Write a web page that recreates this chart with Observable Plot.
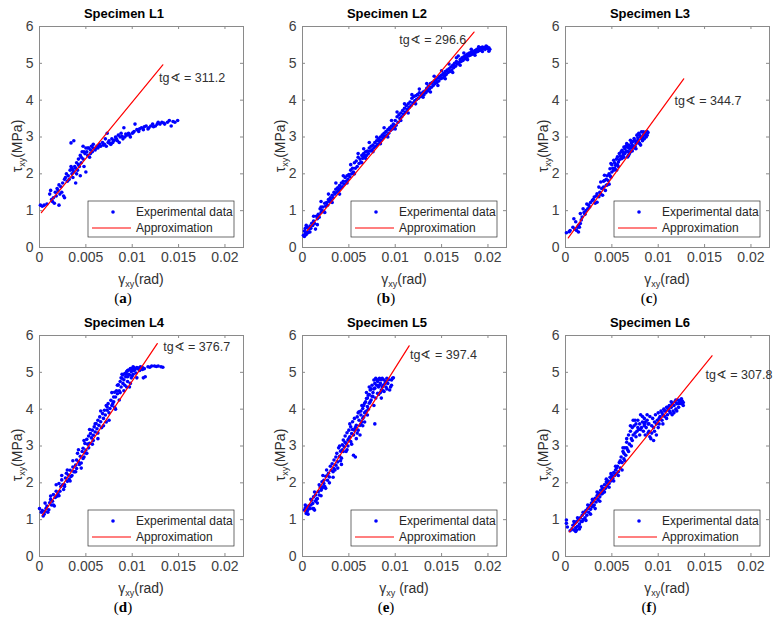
<!DOCTYPE html>
<html>
<head>
<meta charset="utf-8">
<script src="https://cdn.jsdelivr.net/npm/d3@7"></script>
<script src="https://cdn.jsdelivr.net/npm/@observablehq/plot@0.6"></script>
<style>
  html, body { margin: 0; padding: 0; background: #fff; }
  #wrap { position: relative; width: 781px; height: 626px; background: #fff; overflow: hidden;
          font-family: "Liberation Sans", Arial, sans-serif; }
  .panel { position: absolute; }
  #overlay { position: absolute; left: 0; top: 0; pointer-events: none; }
</style>
</head>
<body>
<div id="wrap"></div>
<script>
// ---------- data ----------
const titles = ["Specimen L1", "Specimen L2", "Specimen L3", "Specimen L4", "Specimen L5", "Specimen L6"];
const captions = ["a", "b", "c", "d", "e", "f"];
const slopes = ["311.2", "296.6", "344.7", "376.7", "397.4", "307.8"];
const xLabelTexts = ["(rad)", "(rad)", "(rad)", "(rad)", " (rad)", "(rad)"];
const xTicks = [0, 0.005, 0.01, 0.015, 0.02];
const xTickLabels = ["0", "0.005", "0.01", "0.015", "0.02"];
const yTicks = [0, 1, 2, 3, 4, 5, 6];
const yTickLabels = ["0", "1", "2", "3", "4", "5", "6"];
const xDomain = [0, 0.022];
const yDomain = [0, 6];
const legendLabels = ["Experimental data", "Approximation"];

// approximation lines (start, end)
const fitStart = [[0.0002, 0.95], [0.0005, 0.46], [0.0003, 0.26], [0.0003, 1.12], [0.0002, 1.21], [0.0004, 0.67]];
const fitEnd = [[0.0133, 4.96], [0.0185, 5.85], [0.01275, 4.58], [0.0127, 5.78], [0.0115, 5.72], [0.0158, 5.45]];
// annotation anchors (left, middle)
const annotPos = [[0.0129, 4.61], [0.01044, 5.64], [0.01175, 3.99], [0.01334, 5.69], [0.0116, 5.47], [0.01509, 4.92]];

const l1 = [[0.0001,1.15],[0.0003,1.12],[0.0005,1.15],[0.0008,1.18],[0.0011,1.45],[0.0012,1.55],[0.0013,1.3],[0.0014,1.25],[0.0015,1.35],[0.0016,1.2],[0.0017,1.5],[0.0018,1.4],[0.0019,1.6],[0.002,1.55],[0.0021,1.15],[0.0021,1.7],[0.0022,1.45],[0.0023,1.65],[0.0024,1.5],[0.0025,1.75],[0.0026,1.4],[0.0027,1.35],[0.0027,1.85],[0.0028,1.9],[0.0029,2.0],[0.003,1.8],[0.0031,1.95],[0.0032,1.85],[0.0033,2.1],[0.0034,2.2],[0.0034,2.84],[0.0035,2.0],[0.0035,2.15],[0.0036,1.9],[0.0037,2.05],[0.0037,2.9],[0.0038,2.2],[0.0039,1.75],[0.004,2.0],[0.004,2.3],[0.0041,2.1],[0.0042,2.4],[0.0043,2.2],[0.0044,1.95],[0.0044,2.5],[0.0045,2.3],[0.0046,2.6],[0.0047,2.4],[0.0047,2.75],[0.0048,2.2],[0.0049,2.55],[0.005,2.05],[0.005,2.7],[0.0051,2.6],[0.0052,2.5],[0.0053,2.7],[0.0054,2.45],[0.0055,2.65],[0.0056,2.75],[0.0057,2.6],[0.0058,2.7],[0.006,2.65],[0.0062,2.75],[0.0063,2.7],[0.0065,2.8],[0.0066,2.75],[0.0068,2.85],[0.007,2.8],[0.0071,2.95],[0.0072,2.75],[0.0073,3.1],[0.0074,2.85],[0.0075,2.9],[0.0077,2.8],[0.0078,2.95],[0.0079,2.85],[0.008,2.9],[0.0082,3.0],[0.0083,2.95],[0.0085,3.05],[0.0086,2.85],[0.0087,3.0],[0.0088,3.1],[0.009,2.95],[0.0091,3.25],[0.0092,3.0],[0.0094,3.05],[0.0096,3.1],[0.0098,3.0],[0.01,3.1],[0.0102,3.15],[0.0103,3.35],[0.0105,3.2],[0.0107,3.15],[0.011,3.25],[0.0112,3.2],[0.0115,3.3],[0.0118,3.25],[0.012,3.3],[0.0122,3.35],[0.0125,3.3],[0.0128,3.4],[0.013,3.35],[0.0132,3.4],[0.0135,3.35],[0.0138,3.4],[0.014,3.45],[0.0142,3.3],[0.0144,3.42],[0.0146,3.4],[0.0149,3.45],
[0.0036,2.1],[0.0039,2.15],[0.0042,2.25],[0.0045,2.45],[0.0048,2.6],[0.0052,2.7],[0.0055,2.55],[0.0058,2.8],[0.0061,2.7],[0.0064,2.75],[0.0069,2.78],[0.0076,2.82],[0.0081,2.92],[0.0084,2.9],[0.0089,3.02],[0.0093,3.08],[0.0097,3.05],[0.0101,3.12],[0.0108,3.22],[0.0113,3.28],[0.0117,3.22],[0.0123,3.28],[0.0127,3.35],[0.0134,3.38]];

const l2 = [[0.0001,0.33],[0.0002,0.45],[0.0002,0.3],[0.0003,0.38],[0.0003,0.52],[0.0004,0.35],[0.0005,0.42],[0.0005,0.55],[0.0006,0.4],[0.0007,0.5],[0.0008,0.58],[0.0009,0.52],[0.001,0.66],[0.0011,0.6],[0.0012,0.72],[0.0013,0.65],[0.0014,0.5],[0.0015,0.85],[0.0016,0.78],[0.0017,0.9],[0.0018,0.82],[0.0019,1.05],[0.002,0.95],[0.002,1.25],[0.0021,1.0],[0.0022,1.1],[0.0023,0.98],[0.0024,1.2],[0.0025,1.12],[0.0026,1.22],[0.0027,1.15],[0.0028,1.3],[0.0029,1.25],[0.003,1.35],[0.0031,1.28],[0.0032,1.42],[0.0033,1.35],[0.0034,1.5],[0.0035,1.45],[0.0036,1.58],[0.0037,1.5],[0.0038,1.62],[0.0039,1.55],[0.004,1.68],[0.0041,1.6],[0.0042,1.75],[0.0043,1.65],[0.0044,1.8],[0.0045,1.72],[0.0046,1.9],[0.0047,1.8],[0.0048,1.95],[0.0049,1.85],[0.005,1.98],[0.0051,1.92],[0.0052,2.1],[0.0053,2.0],[0.0054,2.15],[0.0055,2.05],[0.0056,2.3],[0.0057,2.15],[0.0058,2.35],[0.0059,2.2],[0.006,2.45],[0.0061,2.28],[0.0062,2.4],[0.0063,2.32],[0.0064,2.5],[0.0065,2.42],[0.0066,2.55],[0.0067,2.48],[0.0068,2.6],[0.0069,2.5],[0.007,2.62],[0.0071,2.55],[0.0072,2.7],[0.0073,2.62],[0.0074,2.75],[0.0075,2.65],[0.0076,2.78],[0.0077,2.7],[0.0078,2.85],[0.0079,2.75],[0.008,2.9],[0.0081,2.8],[0.0082,2.95],[0.0083,2.88],[0.0084,3.0],[0.0085,2.92],[0.0086,3.05],[0.0087,2.98],[0.0088,3.1],[0.0089,3.02],[0.009,3.15],[0.0091,3.05],[0.0092,3.2],[0.0093,3.1],[0.0094,3.25],[0.0095,3.18],[0.0096,3.3],[0.0097,3.22],[0.0098,3.35],[0.0099,3.28],[0.01,3.45],[0.0101,3.32],[0.0102,3.55],[0.0103,3.4],[0.0104,3.6],[0.0105,3.5],[0.0106,3.65],[0.0107,3.55],[0.0108,3.72],[0.0109,3.62],[0.011,3.78],[0.0111,3.68],[0.0112,3.85],[0.0113,3.75],[0.0114,3.9],[0.0115,3.8],[0.0116,3.95],[0.0117,3.85],[0.0118,4.05],[0.0119,3.92],[0.012,4.1],[0.0121,3.98],[0.0122,4.12],[0.0123,4.02],[0.0124,4.15],[0.0125,4.05],[0.0126,4.2],[0.0127,4.1],[0.0128,4.18],[0.0129,4.12],[0.013,4.22],[0.0131,4.15],[0.0132,4.25],[0.0133,4.2],[0.0134,4.32],[0.0135,4.25],[0.0136,4.38],[0.0137,4.3],[0.0138,4.45],[0.0139,4.35],[0.014,4.48],[0.0141,4.4],[0.0142,4.52],[0.0143,4.45],[0.0144,4.55],[0.0145,4.48],[0.0146,4.6],[0.0147,4.52],[0.0148,4.65],[0.0149,4.58],[0.015,4.68],[0.0151,4.6],[0.0152,4.72],[0.0153,4.65],[0.0154,4.78],[0.0155,4.7],[0.0156,4.82],[0.0157,4.75],[0.0158,4.85],[0.0159,4.78],[0.016,4.9],[0.0161,4.82],[0.0162,4.95],[0.0163,4.88],[0.0164,5.0],[0.0165,4.92],[0.0166,5.05],[0.0167,4.98],[0.0168,5.2],[0.0169,5.02],[0.017,5.1],[0.0171,5.05],[0.0172,5.15],[0.0173,5.08],[0.0174,5.18],[0.0175,5.12],[0.0176,5.22],[0.0177,5.15],[0.0178,5.25],[0.0179,5.2],[0.018,5.28],[0.0181,5.22],[0.0182,5.3],[0.0183,5.25],[0.0184,5.32],[0.0185,5.28],[0.0186,5.35],[0.0187,5.3],[0.0188,5.38],[0.0189,5.32],[0.019,5.4],[0.0191,5.35],[0.0192,5.42],[0.0193,5.38],[0.0194,5.44],[0.0195,5.4],[0.0196,5.43],[0.0197,5.38],[0.0198,5.42],[0.0199,5.45],[0.02,5.4],[0.0201,5.42],[0.0202,5.38],
[0.0004,0.6],[0.0008,0.42],[0.0012,0.85],[0.0016,0.62],[0.002,1.1],[0.0024,0.95],[0.0028,1.45],[0.0032,1.22],[0.0036,1.75],[0.004,1.45],[0.0044,1.95],[0.0048,1.75],[0.0052,2.25],[0.0056,2.0],[0.006,2.55],[0.0064,2.3],[0.0066,2.68],[0.0068,2.42],[0.0072,2.85],[0.0076,2.6],[0.008,3.0],[0.0084,2.82],[0.0088,3.25],[0.0092,3.0],[0.0096,3.45],[0.01,3.22],[0.0102,3.68],[0.0106,3.45],[0.011,3.9],[0.0114,3.65],[0.0118,4.15],[0.0122,3.9],[0.0126,4.3],[0.013,4.08],[0.0134,4.45],[0.0138,4.22],[0.0142,4.65],[0.0146,4.4],[0.015,4.8],[0.0154,4.58],[0.0158,4.98],[0.0162,4.75],[0.0166,5.15],[0.017,4.95],[0.0174,5.28],[0.0178,5.1],[0.0182,5.38],[0.0186,5.22],[0.019,5.45],[0.0194,5.32],[0.0198,5.47],[0.0201,5.33]];

const l3 = [[0.0001,0.4],[0.0004,0.43],[0.0005,0.46],[0.0008,0.55],[0.0009,0.78],[0.001,0.5],[0.0011,0.7],[0.0012,0.46],[0.0013,0.55],[0.0014,0.42],[0.0014,0.6],[0.0016,0.65],[0.0016,0.92],[0.0017,0.75],[0.0018,0.83],[0.0019,1.05],[0.0021,0.9],[0.0022,1.0],[0.0023,1.18],[0.0024,1.05],[0.0026,1.1],[0.0027,1.22],[0.0029,1.28],[0.0031,1.37],[0.0032,1.2],[0.0034,1.46],[0.0034,1.23],[0.0036,1.64],[0.0036,1.38],[0.0037,1.5],[0.0038,1.78],[0.0039,1.6],[0.004,1.42],[0.0041,1.64],[0.0042,1.82],[0.0042,1.96],[0.0043,1.55],[0.0044,1.69],[0.0044,1.85],[0.0045,1.95],[0.0046,1.82],[0.0047,2.0],[0.0047,1.72],[0.0048,2.14],[0.0049,2.28],[0.0049,1.91],[0.005,2.05],[0.0051,2.15],[0.0052,2.37],[0.0052,2.1],[0.0053,2.3],[0.0054,2.23],[0.0055,2.1],[0.0056,2.46],[0.0056,2.25],[0.0057,2.32],[0.0058,2.55],[0.0058,2.38],[0.0059,2.48],[0.006,2.41],[0.0061,2.64],[0.0061,2.42],[0.0062,2.5],[0.0062,2.58],[0.0063,2.73],[0.0064,2.55],[0.0064,2.68],[0.0065,2.6],[0.0066,2.82],[0.0066,2.62],[0.0067,2.46],[0.0067,2.72],[0.0068,2.6],[0.0068,2.78],[0.0069,2.69],[0.0069,2.55],[0.007,2.91],[0.007,2.6],[0.0071,2.7],[0.0071,2.84],[0.0072,2.78],[0.0072,2.62],[0.0073,2.73],[0.0073,2.88],[0.0074,2.96],[0.0075,2.75],[0.0075,2.9],[0.0076,2.82],[0.0076,2.68],[0.0077,3.05],[0.0078,2.91],[0.0078,2.98],[0.0079,3.1],[0.0079,2.85],[0.008,2.82],[0.0081,3.0],[0.0081,2.78],[0.0082,3.14],[0.0083,3.0],[0.0083,2.9],[0.0084,3.14],[0.0085,3.1],[0.0085,2.95],[0.0086,3.05],[0.0087,3.14],[0.0088,3.05],[0.0089,3.12],
[0.0015,0.55],[0.002,0.95],[0.0025,1.15],[0.003,1.3],[0.0033,1.4],[0.0038,1.45],[0.0041,1.8],[0.0045,1.7],[0.0048,1.95],[0.005,2.25],[0.0053,2.15],[0.0055,2.4],[0.0057,2.2],[0.006,2.6],[0.0063,2.45],[0.0065,2.75],[0.0068,2.5],[0.007,2.75],[0.0074,2.7],[0.0077,2.85],[0.008,3.05],[0.0082,2.95],[0.0084,3.05],[0.0087,3.0],[0.0088,3.15]];

const l4 = [[0.0,1.3],[0.0002,1.2],[0.0003,1.25],[0.0004,1.1],[0.0005,1.15],[0.0006,1.23],[0.0007,1.3],[0.0008,1.37],[0.001,1.27],[0.0011,1.46],[0.0012,1.64],[0.0013,1.4],[0.0014,1.5],[0.0015,1.68],[0.0016,1.37],[0.0017,1.6],[0.0018,1.77],[0.0019,1.64],[0.002,1.7],[0.0021,1.98],[0.0022,1.77],[0.0023,1.9],[0.0024,2.08],[0.0025,1.95],[0.0026,1.82],[0.0027,1.9],[0.0028,2.13],[0.0029,2.26],[0.003,2.04],[0.0031,2.21],[0.0032,2.1],[0.0033,2.34],[0.0034,2.17],[0.0035,2.2],[0.0036,2.43],[0.0037,2.3],[0.0038,2.3],[0.0039,2.48],[0.004,2.62],[0.004,2.39],[0.0041,2.8],[0.0042,2.57],[0.0043,2.5],[0.0044,2.72],[0.0045,2.54],[0.0046,2.85],[0.0047,2.66],[0.0047,2.94],[0.0048,2.7],[0.0049,2.81],[0.0049,3.07],[0.005,2.89],[0.0051,3.18],[0.0052,3.05],[0.0053,3.27],[0.0053,2.95],[0.0054,3.07],[0.0055,3.34],[0.0056,3.22],[0.0057,3.43],[0.0058,3.29],[0.0058,3.15],[0.0059,3.52],[0.006,3.38],[0.0061,3.61],[0.0062,3.47],[0.0063,3.7],[0.0063,3.35],[0.0064,3.56],[0.0065,3.79],[0.0066,3.66],[0.0067,3.5],[0.0068,3.88],[0.0069,3.75],[0.007,3.97],[0.0071,3.84],[0.0072,3.65],[0.0073,4.06],[0.0073,3.97],[0.0074,4.15],[0.0075,3.9],[0.0076,4.02],[0.0077,4.24],[0.0078,4.1],[0.0079,4.15],[0.008,4.33],[0.008,4.2],[0.0081,4.46],[0.0082,4.33],[0.0082,4.0],[0.0083,4.5],[0.0084,4.42],[0.0085,4.66],[0.0086,4.5],[0.0087,4.75],[0.0087,4.45],[0.0088,4.6],[0.0088,4.85],[0.0089,4.84],[0.009,4.7],[0.009,4.93],[0.0091,4.8],[0.0092,4.97],[0.0092,4.65],[0.0093,4.88],[0.0093,4.95],[0.0094,5.02],[0.0095,4.88],[0.0095,4.75],[0.0095,5.05],[0.0096,5.06],[0.0097,4.93],[0.0097,4.6],[0.0098,5.1],[0.0099,5.02],[0.0099,5.1],[0.0099,4.85],[0.01,5.06],[0.0101,5.15],[0.0101,4.95],[0.0102,5.05],[0.0103,5.08],[0.0105,5.13],[0.0105,4.85],[0.0108,5.13],[0.0108,5.05],[0.0111,5.13],[0.0111,5.08],[0.0112,4.85],[0.0114,4.88],[0.0117,5.15],[0.0121,5.17],[0.0124,5.17],[0.0128,5.17],[0.0131,5.15],[0.0133,5.14],
[0.0006,1.45],[0.0009,1.2],[0.0012,1.55],[0.0015,1.4],[0.0018,1.95],[0.0021,1.65],[0.0024,2.2],[0.0027,1.95],[0.003,2.35],[0.0033,2.05],[0.0036,2.6],[0.0039,2.3],[0.0042,2.9],[0.0045,2.4],[0.0048,3.15],[0.0051,2.8],[0.0054,3.45],[0.0057,3.05],[0.006,3.6],[0.0063,3.2],[0.0066,3.95],[0.0069,3.55],[0.0072,4.1],[0.0075,3.7],[0.0078,4.45],[0.0081,4.05],[0.0084,4.65],[0.0086,4.25],[0.0089,4.95],[0.0091,4.5],[0.0094,4.6],[0.0096,4.95],[0.0098,4.7],[0.01,4.9],[0.0102,5.12],[0.0104,4.98],[0.0106,5.1],[0.0109,5.15],[0.0113,5.1],[0.0119,5.14],[0.0126,5.16]];

const l5 = [[0.0002,1.26],[0.0003,1.32],[0.0004,1.17],[0.0005,1.35],[0.0005,1.23],[0.0006,1.28],[0.0007,1.38],[0.0008,1.3],[0.0009,1.4],[0.001,1.53],[0.0011,1.44],[0.0012,1.62],[0.0012,1.3],[0.0013,1.26],[0.0014,1.5],[0.0014,1.67],[0.0015,1.55],[0.0016,1.57],[0.0017,1.76],[0.0018,1.67],[0.0019,1.89],[0.002,1.8],[0.0021,2.03],[0.0021,1.85],[0.0022,1.89],[0.0023,1.98],[0.0023,2.07],[0.0025,1.85],[0.0025,2.18],[0.0027,2.07],[0.0027,2.2],[0.0028,2.26],[0.0029,2.16],[0.0031,2.34],[0.0032,2.52],[0.0033,2.3],[0.0034,2.39],[0.0034,2.62],[0.0035,2.35],[0.0036,2.48],[0.0037,2.8],[0.0038,2.57],[0.0039,2.95],[0.004,2.72],[0.0041,2.86],[0.0041,2.6],[0.0042,2.67],[0.0043,3.03],[0.0043,2.9],[0.0044,3.16],[0.0045,2.98],[0.0046,3.27],[0.0047,3.07],[0.0047,2.85],[0.0048,3.36],[0.0049,3.16],[0.0049,3.0],[0.005,3.43],[0.0051,3.25],[0.0052,3.12],[0.0052,3.52],[0.0053,3.34],[0.0054,3.66],[0.0055,2.75],[0.0055,3.3],[0.0056,3.43],[0.0057,2.7],[0.0057,3.5],[0.0058,3.56],[0.0059,3.79],[0.0059,3.35],[0.006,3.43],[0.0061,3.7],[0.0061,3.93],[0.0062,3.56],[0.0063,3.84],[0.0063,3.6],[0.0064,3.66],[0.0065,4.02],[0.0065,3.75],[0.0066,3.79],[0.0066,4.1],[0.0067,4.16],[0.0067,3.65],[0.0068,3.93],[0.0068,4.2],[0.0069,4.29],[0.0069,3.95],[0.007,4.07],[0.007,3.84],[0.007,4.3],[0.0071,4.38],[0.0072,4.16],[0.0072,4.4],[0.0073,4.52],[0.0074,4.25],[0.0074,4.55],[0.0075,4.65],[0.0076,4.34],[0.0076,4.45],[0.0077,4.79],[0.0078,3.6],[0.0078,4.57],[0.0078,4.7],[0.0079,4.84],[0.008,4.65],[0.0081,4.43],[0.0081,4.75],[0.0082,4.6],[0.0082,4.8],[0.0083,4.84],[0.0084,4.7],[0.0084,4.45],[0.0085,4.52],[0.0086,4.84],[0.0086,4.6],[0.0087,4.65],[0.0088,4.79],[0.0088,4.48],[0.009,4.75],[0.009,4.6],[0.0091,4.84],[0.0092,4.7],[0.0094,4.52],[0.0096,4.79],[0.0096,4.65],[0.0097,4.84],
[0.0003,1.4],[0.0006,1.15],[0.0009,1.55],[0.0011,1.3],[0.0013,1.75],[0.0016,1.45],[0.0018,1.95],[0.002,1.65],[0.0022,2.2],[0.0024,1.9],[0.0026,2.35],[0.0029,2.0],[0.003,2.45],[0.0033,2.15],[0.0036,2.7],[0.0038,2.4],[0.004,3.0],[0.0042,2.5],[0.0044,2.85],[0.0046,3.1],[0.0048,2.9],[0.005,3.2],[0.0051,3.6],[0.0053,3.05],[0.0054,3.45],[0.0056,3.75],[0.0058,3.2],[0.006,3.9],[0.0062,3.3],[0.0064,4.1],[0.0065,3.55],[0.0067,3.9],[0.0069,4.45],[0.0071,4.0],[0.0072,4.6],[0.0073,4.2],[0.0075,4.35],[0.0077,4.55],[0.0079,4.3],[0.008,4.8],[0.0082,4.4],[0.0083,4.65],[0.0085,4.8],[0.0087,4.5],[0.0089,4.7],[0.0091,4.55],[0.0093,4.8],[0.0095,4.6],[0.0098,4.85],[0.0085,4.3],[0.0077,4.1],[0.0063,3.95]];

const l6 = [[0.0001,0.9],[0.0001,0.99],[0.0002,0.8],[0.0007,0.75],[0.0008,0.85],[0.0009,0.72],[0.001,0.9],[0.0011,0.78],[0.0012,0.95],[0.0012,0.72],[0.0013,0.82],[0.0014,1.0],[0.0015,0.88],[0.0015,0.75],[0.0016,1.05],[0.0017,0.95],[0.0018,1.12],[0.0018,0.95],[0.0019,1.0],[0.002,1.18],[0.0021,1.05],[0.0021,1.2],[0.0022,1.25],[0.0023,1.12],[0.0024,1.3],[0.0025,1.2],[0.0025,1.32],[0.0026,1.38],[0.0027,1.28],[0.0028,1.45],[0.0029,1.35],[0.003,1.5],[0.003,1.38],[0.0031,1.4],[0.0032,1.58],[0.0033,1.48],[0.0034,1.65],[0.0035,1.55],[0.0035,1.68],[0.0036,1.72],[0.0037,1.62],[0.0038,1.8],[0.0039,1.7],[0.004,1.85],[0.004,1.72],[0.0041,1.78],[0.0042,1.95],[0.0043,1.85],[0.0044,2.02],[0.0045,1.92],[0.0045,2.0],[0.0046,2.05],[0.0047,1.98],[0.0048,2.15],[0.0049,2.05],[0.005,2.2],[0.005,2.1],[0.0051,2.12],[0.0052,2.28],[0.0053,2.2],[0.0054,2.35],[0.0055,2.25],[0.0055,2.4],[0.0056,2.45],[0.0057,2.3],[0.0058,2.55],[0.0059,2.4],[0.006,2.7],[0.0061,2.55],[0.0062,2.85],[0.0063,2.65],[0.0063,2.8],[0.0064,2.95],[0.0065,2.75],[0.0066,3.1],[0.0066,2.95],[0.0067,2.9],[0.0068,3.3],[0.0069,3.05],[0.007,3.4],[0.0071,3.2],[0.0072,3.5],[0.0072,3.15],[0.0073,3.3],[0.0074,3.55],[0.0075,3.35],[0.0075,3.7],[0.0076,3.6],[0.0077,3.4],[0.0078,3.7],[0.0079,3.45],[0.008,3.6],[0.008,3.3],[0.0081,3.85],[0.0082,3.5],[0.0083,3.65],[0.0084,3.4],[0.0085,3.55],[0.0085,3.75],[0.0085,3.6],[0.0086,3.3],[0.0087,3.5],[0.0088,3.7],[0.0088,3.85],[0.0089,3.35],[0.009,3.6],[0.009,3.4],[0.0091,3.8],[0.0092,3.2],[0.0093,3.55],[0.0094,3.75],[0.0095,3.15],[0.0095,3.5],[0.0096,3.65],[0.0097,3.85],[0.0098,3.3],[0.0099,3.7],[0.01,3.9],[0.01,3.5],[0.0101,3.6],[0.0102,3.8],[0.0103,3.95],[0.0104,3.7],[0.0105,3.85],[0.0105,3.6],[0.0106,4.0],[0.0107,3.8],[0.0108,3.95],[0.0109,4.05],[0.011,3.85],[0.011,4.05],[0.0111,4.0],[0.0112,4.1],[0.0113,3.9],[0.0114,4.05],[0.0115,4.15],[0.0115,3.85],[0.0116,3.95],[0.0117,4.1],[0.0118,4.2],[0.0119,4.0],[0.012,4.15],[0.012,3.95],[0.0121,4.25],[0.0122,4.05],[0.0123,4.2],[0.0124,4.25],[0.0125,4.15],[0.0126,4.22],[0.0127,4.18],
[0.0005,0.7],[0.0009,0.95],[0.0011,0.68],[0.0013,1.05],[0.0016,0.8],[0.0019,1.2],[0.0022,0.98],[0.0024,1.4],[0.0027,1.15],[0.0029,1.55],[0.0032,1.3],[0.0034,1.75],[0.0037,1.5],[0.0039,1.9],[0.0042,1.75],[0.0044,2.1],[0.0047,1.88],[0.0049,2.25],[0.0052,2.05],[0.0054,2.45],[0.0057,2.2],[0.0059,2.6],[0.0061,2.35],[0.0062,2.95],[0.0064,2.6],[0.0066,3.2],[0.0068,2.85],[0.007,3.55],[0.0071,3.0],[0.0073,3.7],[0.0076,3.25],[0.0078,3.5],[0.0081,3.45],[0.0083,3.8],[0.0086,3.65],[0.0089,3.6],[0.0091,3.25],[0.0093,3.35],[0.0096,3.4],[0.0098,3.6],[0.0101,3.75],[0.0104,3.9],[0.0107,3.95],[0.0109,3.75],[0.0112,3.95],[0.0114,4.2],[0.0117,3.9],[0.0119,4.25],[0.0122,4.15],[0.0125,4.28],[0.0127,4.1]];

const series = [l1, l2, l3, l4, l5, l6];

// ---------- layout ----------
const W = 204, H = 221;
const colX0 = [39, 302, 565];
const rowY0 = [26, 335];
const mL = 36, mT = 12, mR = 14, mB = 30;
const axisColor = "#8a8a8a";
const wrap = document.getElementById("wrap");
const NS = "http://www.w3.org/2000/svg";

let overlay = `<svg id="overlay" width="781" height="626" xmlns="${NS}" font-family="Liberation Sans, Arial, sans-serif">`;

series.forEach((data, i) => {
  const X0 = colX0[i % 3], Y0 = rowY0[Math.floor(i / 3)];
  const fit = [fitStart[i], fitEnd[i]];
  const chart = Plot.plot({
    width: mL + W + mR,
    height: mT + H + mB,
    marginLeft: mL, marginTop: mT, marginRight: mR, marginBottom: mB,
    style: {fontFamily: "Liberation Sans, Arial, sans-serif", fontSize: "14px", color: "#404040", background: "transparent", overflow: "visible"},
    x: {domain: xDomain},
    y: {domain: yDomain},
    marks: [
      Plot.frame({stroke: axisColor}),
      Plot.tickX(xTicks, {x: d => d, insetTop: H - 3, stroke: axisColor}),
      Plot.tickX(xTicks, {x: d => d, insetBottom: H - 3, stroke: axisColor}),
      Plot.tickY(yTicks, {y: d => d, insetRight: W - 3, stroke: axisColor}),
      Plot.tickY(yTicks, {y: d => d, insetLeft: W - 3, stroke: axisColor}),
      Plot.axisX({ticks: xTicks, tickSize: 0, tickPadding: 5, label: null,
                  tickFormat: d => xTickLabels[xTicks.indexOf(d)]}),
      Plot.axisY({ticks: yTicks, tickSize: 0, tickPadding: 6, label: null,
                  tickFormat: d => yTickLabels[yTicks.indexOf(d)]}),
      Plot.dot(data, {x: d => d[0], y: d => d[1], r: 1.8, fill: "#0000ff", stroke: "none"}),
      Plot.line(fit, {x: d => d[0], y: d => d[1], stroke: "#ff0000", strokeWidth: 1.2}),
      Plot.text([annotPos[i]], {x: d => d[0], y: d => d[1], text: () => "tg\u2222 = " + slopes[i],
                  textAnchor: "start", fontSize: 12.5, fill: "#303030"})
    ]
  });
  chart.classList.add("panel");
  chart.style.left = (X0 - mL) + "px";
  chart.style.top = (Y0 - mT) + "px";
  wrap.appendChild(chart);

  const cx = X0 + W / 2;
  // title
  overlay += `<text x="${cx - 17}" y="${Y0 - 8}" text-anchor="middle" font-weight="bold" font-size="13" fill="#000">${titles[i]}</text>`;
  // x label
  overlay += `<text x="${cx}" y="${Y0 + H + 37}" text-anchor="middle" font-size="14" fill="#303030" xml:space="preserve">γ<tspan font-size="9" dy="3">xy</tspan><tspan dy="-3">${xLabelTexts[i]}</tspan></text>`;
  // y label
  overlay += `<text transform="translate(${X0 - 17},${Y0 + 120}) rotate(-90)" text-anchor="middle" font-size="14" fill="#303030">τ<tspan font-size="9" dy="3">xy</tspan><tspan dy="-3">(MPa)</tspan></text>`;
  // caption
  overlay += `<text x="${cx - 18}" y="${Y0 + 277}" text-anchor="middle" font-family="Liberation Serif, Times New Roman, serif" font-size="15" fill="#000">(<tspan font-weight="bold">${captions[i]}</tspan>)</text>`;
  // legend
  const lx = X0 + W - 155, ly = Y0 + H - 46;
  overlay += `<g transform="translate(${lx},${ly})">
    <rect x="0" y="0" width="146" height="36" fill="#fff" stroke="#303030" stroke-width="0.7"/>
    <circle cx="25" cy="11" r="1.8" fill="#0000ff"/>
    <text x="48" y="15.3" font-size="12" fill="#262626">${legendLabels[0]}</text>
    <line x1="4" x2="43" y1="27" y2="27" stroke="#ff0000" stroke-width="1.2"/>
    <text x="48" y="31.3" font-size="12" fill="#262626">${legendLabels[1]}</text>
  </g>`;
});
overlay += `</svg>`;
wrap.insertAdjacentHTML("beforeend", overlay);
</script>
</body>
</html>
